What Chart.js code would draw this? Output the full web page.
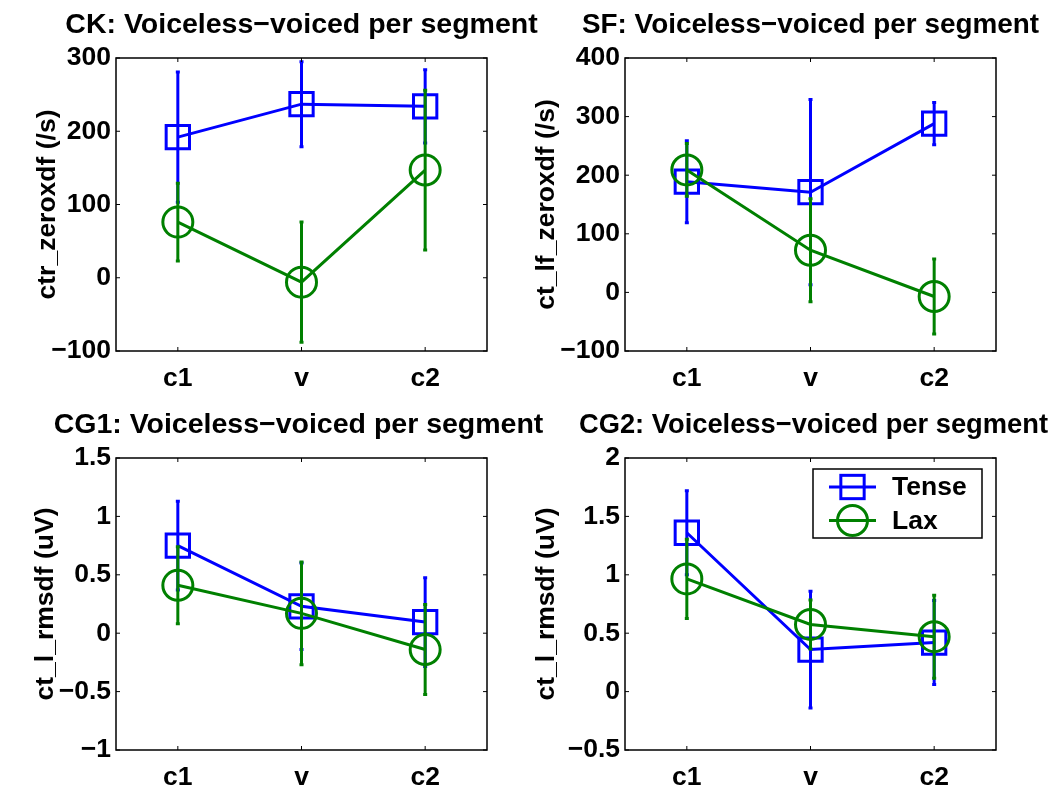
<!DOCTYPE html>
<html><head><meta charset="utf-8">
<script src="https://cdn.jsdelivr.net/npm/chart.js@4.4.1/dist/chart.umd.min.js"></script>
<style>
html,body{margin:0;padding:0;background:#fff;}
body{width:1055px;height:785px;overflow:hidden;position:relative;}
canvas{position:absolute;}
</style></head>
<body>
<canvas id="c0"></canvas><canvas id="c1"></canvas><canvas id="c2"></canvas><canvas id="c3"></canvas>
<script>
// ---------- data ----------
const categories = ['c1', 'v', 'c2'];
const seriesNames = ['Tense', 'Lax'];
const panelTitles = ['CK: Voiceless\u2212voiced per segment', 'SF: Voiceless\u2212voiced per segment',
                     'CG1: Voiceless\u2212voiced per segment', 'CG2: Voiceless\u2212voiced per segment'];
const yAxisLabels = ['ctr_zeroxdf (/s)', 'ct_lf_zeroxdf (/s)', 'ct_l_rmsdf (uV)', 'ct_l_rmsdf (uV)'];
const yMins = [-100, -100, -1, -0.5];
const yMaxs = [300, 400, 1.5, 2];
const ySteps = [100, 100, 0.5, 0.5];

const ckTense = [192, 237, 234];
const ckTenseErr = [89, 58, 50];
const ckLax = [76, -6, 147];
const ckLaxErr = [53, 82, 109];

const sfTense = [189, 171, 288];
const sfTenseErr = [70, 158, 36];
const sfLax = [209, 72, -7];
const sfLaxErr = [45, 88, 64];

const cg1Tense = [0.75, 0.23, 0.095];
const cg1TenseErr = [0.38, 0.37, 0.38];
const cg1Lax = [0.41, 0.17, -0.14];
const cg1LaxErr = [0.33, 0.44, 0.385];

const cg2Tense = [1.36, 0.36, 0.42];
const cg2TenseErr = [0.36, 0.50, 0.36];
const cg2Lax = [0.965, 0.575, 0.47];
const cg2LaxErr = [0.34, 0.21, 0.355];

// ---------- layout / style ----------
const FONT = '"Liberation Sans", Arial, Helvetica, sans-serif';
const BLUE = '#0000ff', GREEN = '#008000';
const panels = [
  {left: 0,   top: 0,   w: 560, h: 400, axisH: 49, yTitlePad: 32, titleDx: 0,  titleMax: 9999, tense: ckTense, tenseErr: ckTenseErr, lax: ckLax, laxErr: ckLaxErr},
  {left: 509, top: 0,   w: 546, h: 400, axisH: 49, yTitlePad: 22, titleDx: 0,  titleMax: 457,  tense: sfTense, tenseErr: sfTenseErr, lax: sfLax, laxErr: sfLaxErr},
  {left: 0,   top: 400, w: 560, h: 385, axisH: 35, yTitlePad: 30, titleDx: -3, titleMax: 9999, tense: cg1Tense, tenseErr: cg1TenseErr, lax: cg1Lax, laxErr: cg1LaxErr},
  {left: 509, top: 400, w: 546, h: 385, axisH: 35, yTitlePad: 22, titleDx: 3,  titleMax: 469,  tense: cg2Tense, tenseErr: cg2TenseErr, lax: cg2Lax, laxErr: cg2LaxErr, legend: true}
];

const fmt = v => String(Number(Number(v).toFixed(3))).replace('-', '\u2212');

// axes title centred over the plot box (MATLAB style)
const axesTitlePlugin = {
  id: 'axesTitle',
  afterDraw(chart, args, opts) {
    const {ctx, chartArea: a} = chart;
    ctx.save();
    ctx.fillStyle = '#000';
    ctx.font = 'bold 28.5px ' + FONT;
    ctx.textAlign = 'center';
    ctx.textBaseline = 'alphabetic';
    ctx.fillText(opts.text, (a.left + a.right) / 2 + opts.dx, a.top - 25, opts.maxWidth);
    ctx.restore();
  }
};

// box + inward ticks
const boxPlugin = {
  id: 'matlabBox',
  afterDatasetsDraw(chart) {
    const {ctx, chartArea: a, scales} = chart;
    ctx.save();
    ctx.strokeStyle = '#000';
    ctx.lineWidth = 1.5;
    ctx.strokeRect(a.left, a.top, a.right - a.left, a.bottom - a.top);
    ctx.lineWidth = 1;
    const tl = 4;
    ctx.beginPath();
    scales.x.ticks.forEach((t, i) => {
      const x = scales.x.getPixelForTick(i);
      ctx.moveTo(x, a.bottom); ctx.lineTo(x, a.bottom - tl);
      ctx.moveTo(x, a.top); ctx.lineTo(x, a.top + tl);
    });
    scales.y.ticks.forEach(t => {
      const y = scales.y.getPixelForValue(t.value);
      ctx.moveTo(a.left, y); ctx.lineTo(a.left + tl, y);
      ctx.moveTo(a.right, y); ctx.lineTo(a.right - tl, y);
    });
    ctx.stroke();
    ctx.restore();
  }
};

// error bars drawn right after each dataset
const errorBarPlugin = {
  id: 'errorBars',
  afterDatasetDraw(chart, args) {
    const ds = chart.data.datasets[args.index];
    const meta = args.meta;
    const ys = chart.scales.y;
    const ctx = chart.ctx;
    ctx.save();
    ctx.strokeStyle = ds.borderColor;
    ctx.lineWidth = 3;
    ctx.lineCap = 'butt';
    ds.data.forEach((v, i) => {
      const e = ds.errors[i];
      const x = meta.data[i].x;
      const y1 = ys.getPixelForValue(v + e), y2 = ys.getPixelForValue(v - e);
      ctx.beginPath();
      ctx.moveTo(x, y1); ctx.lineTo(x, y2);
      ctx.moveTo(x - 2, y1); ctx.lineTo(x + 2, y1);
      ctx.moveTo(x - 2, y2); ctx.lineTo(x + 2, y2);
      ctx.stroke();
    });
    ctx.restore();
  }
};

// in-axes legend (MATLAB style, top right)
const legendPlugin = {
  id: 'boxLegend',
  afterDraw(chart, args, opts) {
    if (!opts.show) return;
    const {ctx, chartArea: a} = chart;
    const bw = 169, bh = 69;
    const bx = a.right - 14 - bw, by = a.top + 11;
    ctx.save();
    ctx.fillStyle = '#fff';
    ctx.fillRect(bx, by, bw, bh);
    ctx.strokeStyle = '#000';
    ctx.lineWidth = 1.5;
    ctx.strokeRect(bx, by, bw, bh);
    chart.data.datasets.forEach((ds, i) => {
      const cy = by + 18 + i * 33.5;
      const x0 = bx + 16, x1 = bx + 63, xm = (x0 + x1) / 2;
      ctx.strokeStyle = ds.borderColor;
      ctx.lineWidth = 3;
      ctx.beginPath(); ctx.moveTo(x0, cy); ctx.lineTo(x1, cy); ctx.stroke();
      if (ds.pointStyle === 'rect') {
        const s = ds.pointRadius * Math.SQRT1_2;
        ctx.strokeRect(xm - s, cy - s, 2 * s, 2 * s);
      } else {
        ctx.beginPath(); ctx.arc(xm, cy, ds.pointRadius, 0, Math.PI * 2); ctx.stroke();
      }
      ctx.fillStyle = '#000';
      ctx.font = 'bold 26.5px ' + FONT;
      ctx.textBaseline = 'middle';
      ctx.textAlign = 'left';
      ctx.fillText(ds.label, bx + 79, cy + 1);
    });
    ctx.restore();
  }
};

panels.forEach((p, k) => {
  const cv = document.getElementById('c' + k);
  cv.width = p.w; cv.height = p.h;
  cv.style.left = p.left + 'px'; cv.style.top = p.top + 'px';
  cv.style.width = p.w + 'px'; cv.style.height = p.h + 'px';
  new Chart(cv, {
    type: 'line',
    data: {
      labels: categories,
      datasets: [
        {label: seriesNames[0], data: p.tense, errors: p.tenseErr, borderColor: BLUE, backgroundColor: 'rgba(0,0,0,0)',
         borderWidth: 3, pointStyle: 'rect', pointRadius: 16.5, pointBorderWidth: 3, pointBorderColor: BLUE,
         pointBackgroundColor: 'rgba(0,0,0,0)', tension: 0, order: 1},
        {label: seriesNames[1], data: p.lax, errors: p.laxErr, borderColor: GREEN, backgroundColor: 'rgba(0,0,0,0)',
         borderWidth: 3, pointStyle: 'circle', pointRadius: 15, pointBorderWidth: 3, pointBorderColor: GREEN,
         pointBackgroundColor: 'rgba(0,0,0,0)', tension: 0, order: 0}
      ]
    },
    options: {
      responsive: false,
      animation: false,
      devicePixelRatio: 1,
      layout: {padding: {left: 0, right: p.w - 487, top: 58, bottom: 0}},
      clip: false,
      plugins: {
        legend: {display: false},
        tooltip: {enabled: false},
        title: {display: false},
        axesTitle: {text: panelTitles[k], dx: p.titleDx, maxWidth: p.titleMax},
        boxLegend: {show: !!p.legend}
      },
      scales: {
        x: {
          type: 'category', offset: true,
          grid: {display: false, drawTicks: false},
          border: {display: false},
          ticks: {color: '#000', padding: 12, font: {family: FONT, size: 26.5, weight: 'bold'}},
          afterFit: s => { s.height = p.axisH; }
        },
        y: {
          type: 'linear', min: yMins[k], max: yMaxs[k],
          grid: {display: false, drawTicks: false},
          border: {display: false},
          ticks: {stepSize: ySteps[k], color: '#000', padding: 5,
                  font: {family: FONT, size: 26.5, weight: 'bold'}, callback: v => fmt(v)},
          title: {display: true, text: yAxisLabels[k], color: '#000', padding: {top: p.yTitlePad, bottom: 0},
                  font: {family: FONT, size: 26.5, weight: 'bold', lineHeight: 1.2}},
          afterFit: s => { s.width = 116; }
        }
      }
    },
    plugins: [boxPlugin, errorBarPlugin, legendPlugin, axesTitlePlugin]
  });
});
</script>
</body></html>
